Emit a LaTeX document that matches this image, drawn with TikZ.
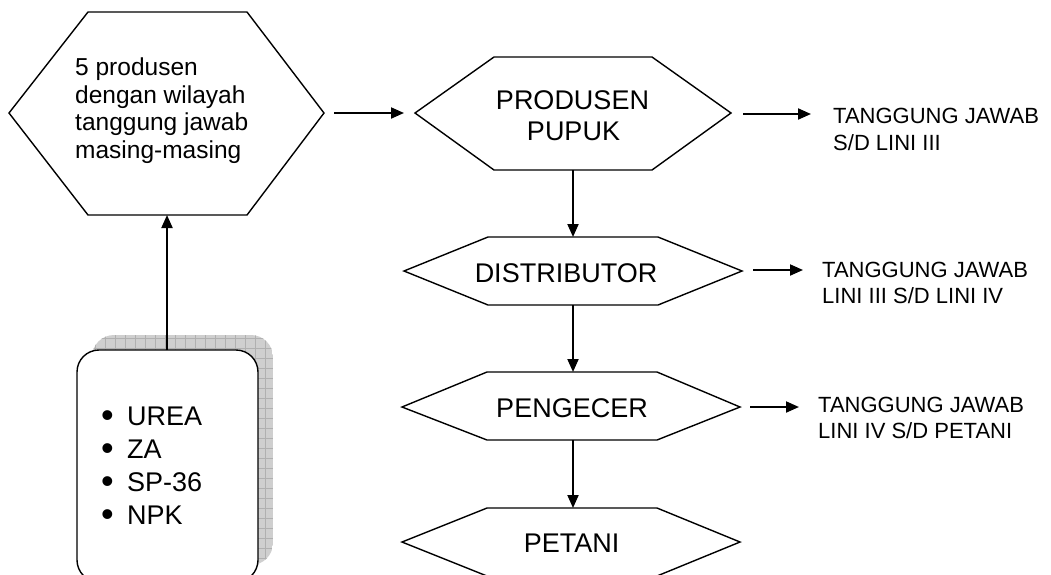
\documentclass[tikz,border=0pt]{standalone}
\usepackage{fontspec}
\setmainfont{Liberation Sans}
\usetikzlibrary{arrows.meta}
\newcommand\mybul{\raisebox{-2pt}{\fontsize{36}{36}\selectfont •}}
\begin{document}
\begin{tikzpicture}[x=1pt,y=-1pt,
  hexline/.style={line width=1.4pt, line join=miter},
  flow/.style={line width=2pt, -{Triangle[length=13pt,width=11pt]}},
  lbl/.style={inner sep=0pt, anchor=base west},
  ctr/.style={inner sep=0pt, anchor=base},
  bigfont/.style={font=\fontsize{27}{31}\selectfont},
  midfont/.style={font=\fontsize{24.5}{28}\selectfont},
  smallfont/.style={font=\fontsize{22}{26}\selectfont},
  shadowfill/.style={fill=gray!38},
  shadowgrid/.style={draw=gray!62, line width=0.7pt}]
\useasboundingbox (0,0) rectangle (1051,574);

% hexagons
\draw[hexline] (9,113) -- (88,12) -- (247,12) -- (324,113) -- (247,215) -- (88,215) -- cycle;
\draw[hexline] (415,113) -- (494,57) -- (652,57) -- (731,113) -- (652,170) -- (494,170) -- cycle;
\draw[hexline] (404,271) -- (488,237) -- (658,237) -- (742,271) -- (658,305) -- (488,305) -- cycle;
\draw[hexline] (402,407) -- (487,372) -- (657,372) -- (740,407) -- (657,440) -- (487,440) -- cycle;
\draw[hexline] (402,542) -- (487,508) -- (657,508) -- (740,542) -- (657,576) -- (487,576) -- cycle;

% shadowed rounded box
\begin{scope}
  \clip[rounded corners=22] (92,335) rectangle (273,565);
  \fill[shadowfill] (92,335) rectangle (273,565);
  \foreach \gx in {95,105,...,275} \draw[shadowgrid] (\gx,335) -- (\gx,565);
  \foreach \gy in {338,348,...,568} \draw[shadowgrid] (92,\gy) -- (273,\gy);
\end{scope}
\draw[hexline, fill=white, rounded corners=22] (77,350) rectangle (258,582);

% texts
\node[lbl, midfont] (t1) at (75,75) {5 produsen};
\node[lbl, midfont] (t2) at (75,103) {dengan wilayah};
\node[lbl, midfont] (t3) at (75,130.5) {tanggung jawab};
\node[lbl, midfont] (t4) at (75,158) {masing-masing};

\node[ctr, bigfont] (prod1) at (572.5,109) {PRODUSEN};
\node[ctr, bigfont] (prod2) at (573.5,140) {PUPUK};
\node[ctr, bigfont] (dist) at (566,282) {DISTRIBUTOR};
\node[ctr, bigfont] (peng) at (572,417) {PENGECER};
\node[ctr, bigfont] (pet) at (571.5,552) {PETANI};

\node[lbl, smallfont] (r1a) at (833,123) {TANGGUNG JAWAB};
\node[lbl, smallfont] (r1b) at (833,150) {S/D LINI III};
\node[lbl, smallfont] (r2a) at (822,277) {TANGGUNG JAWAB};
\node[lbl, smallfont] (r2b) at (822,303) {LINI III S/D LINI IV};
\node[lbl, smallfont] (r3a) at (818,412) {TANGGUNG JAWAB};
\node[lbl, smallfont] (r3b) at (818,438) {LINI IV S/D PETANI};

\node[lbl, bigfont] (b1) at (101,425) {\makebox[26pt][l]{\mybul}UREA};
\node[lbl, bigfont] (b2) at (101,458) {\makebox[26pt][l]{\mybul}ZA};
\node[lbl, bigfont] (b3) at (101,491) {\makebox[26pt][l]{\mybul}SP-36};
\node[lbl, bigfont] (b4) at (101,524) {\makebox[26pt][l]{\mybul}NPK};

% connector end points
\coordinate (boxtop) at (167,350);
\coordinate (h1bot) at (167,215);
\coordinate (h1out) at (334,113);
\coordinate (prodin) at (404,113);
\coordinate (prodbot) at (573,170);
\coordinate (disttop) at (573,237);
\coordinate (distbot) at (573,305);
\coordinate (pengtop) at (573,372);
\coordinate (pengbot) at (573,440);
\coordinate (pettop) at (573,508);
\coordinate (prodout) at (743,114);
\coordinate (a1end) at (811,114);
\coordinate (distout) at (753,270);
\coordinate (a2end) at (803,270);
\coordinate (pengout) at (750,407);
\coordinate (a3end) at (799,407);

\draw[flow] (boxtop) -- (h1bot);
\draw[flow] (h1out) -- (prodin);
\draw[flow] (prodbot) -- (disttop);
\draw[flow] (distbot) -- (pengtop);
\draw[flow] (pengbot) -- (pettop);
\draw[flow] (prodout) -- (a1end);
\draw[flow] (distout) -- (a2end);
\draw[flow] (pengout) -- (a3end);
\end{tikzpicture}
\end{document}
